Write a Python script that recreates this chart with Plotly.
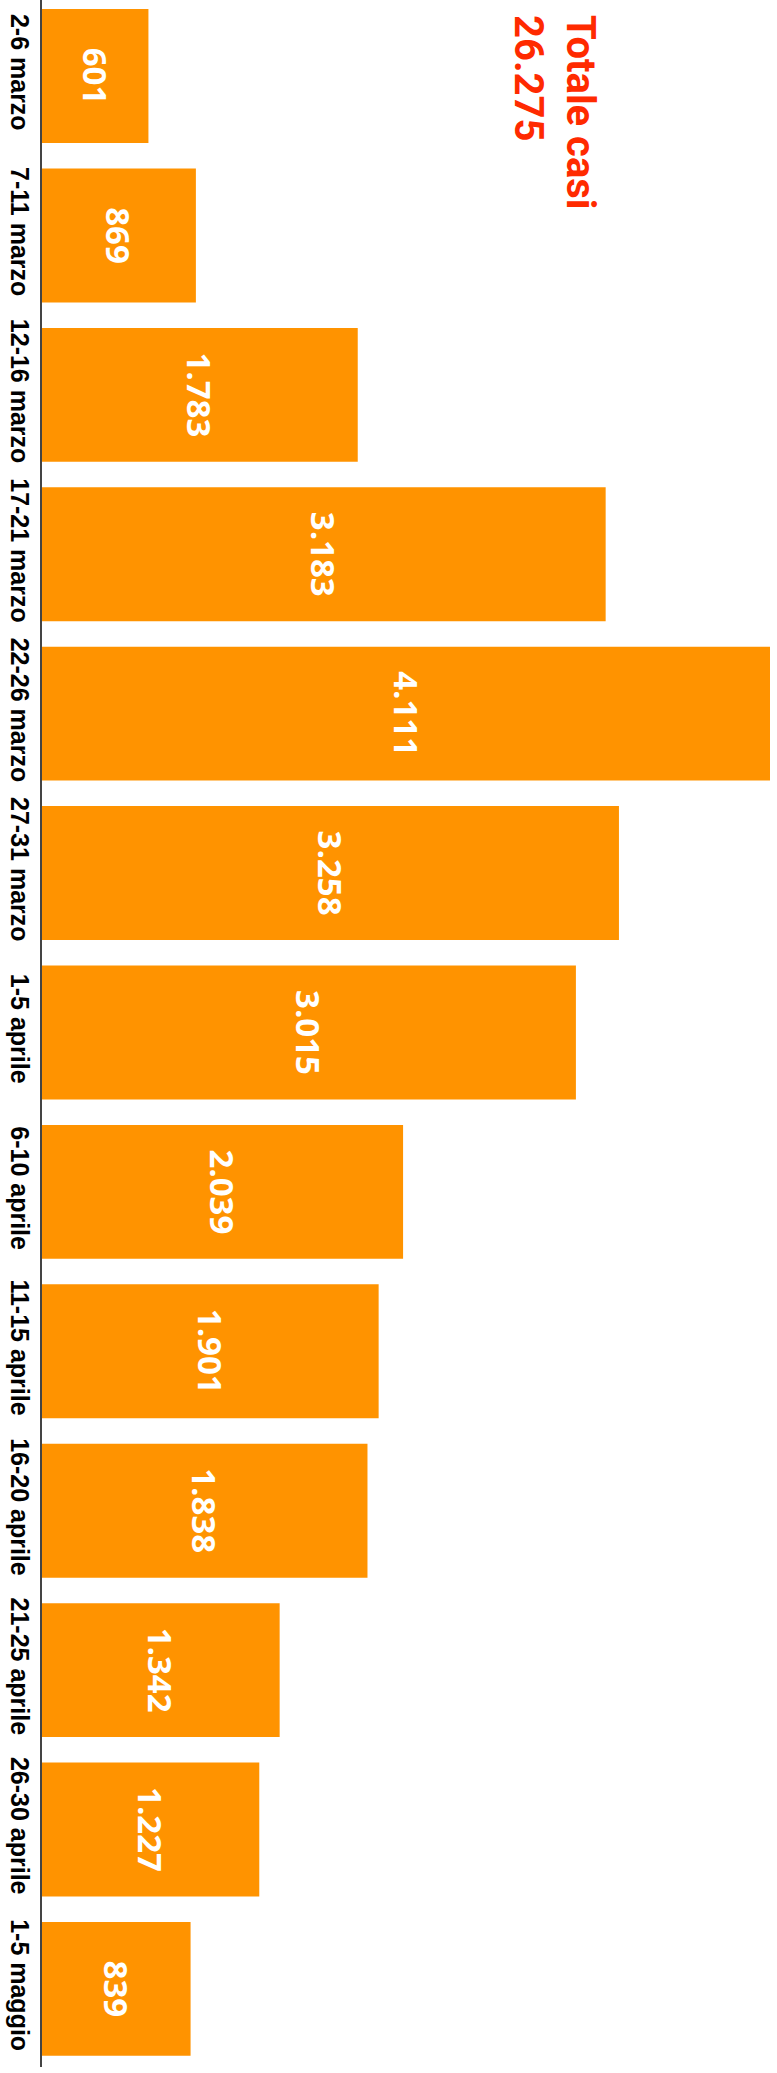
import plotly.graph_objects as go

categories = ["2-6 marzo", "7-11 marzo", "12-16 marzo", "17-21 marzo", "22-26 marzo",
              "27-31 marzo", "1-5 aprile", "6-10 aprile", "11-15 aprile", "16-20 aprile",
              "21-25 aprile", "26-30 aprile", "1-5 maggio"]
values = [601, 869, 1783, 3183, 4111, 3258, 3015, 2039, 1901, 1838, 1342, 1227, 839]
value_labels = ["601", "869", "1.783", "3.183", "4.111", "3.258", "3.015", "2.039",
                "1.901", "1.838", "1.342", "1.227", "839"]
total_title = "Totale casi"
total_value = "26.275"

W, H = 777, 2073
ML, MR, MT, MB = 42, 0, 0, 6

fig = go.Figure(go.Bar(
    x=values,
    y=list(range(len(categories))),
    orientation="h",
    marker=dict(color="#FF9300", line=dict(width=0)),
    text=value_labels,
    textposition="inside",
    insidetextanchor="middle",
    textangle=90,
    textfont=dict(family="Open Sans", size=33, color="white", weight="bold"),
    cliponaxis=False,
    hoverinfo="skip",
))

fig.update_layout(
    width=W, height=H,
    margin=dict(l=ML, r=MR, t=MT, b=MB, autoexpand=False),
    paper_bgcolor="white", plot_bgcolor="white",
    bargap=0.16,
    showlegend=False,
    uniformtext=dict(minsize=8, mode="show"),
    xaxis=dict(range=[0, 4111 * 735 / 728], visible=False, showgrid=False,
               zeroline=False, automargin=False),
    yaxis=dict(
        range=[12.49, -0.477],
        tickmode="array",
        tickvals=list(range(len(categories))),
        ticktext=categories,
        tickangle=90,
        ticklabelstandoff=-1,
        tickfont=dict(family="Liberation Sans, Arial", size=25,
                      color="black", weight="bold"),
        showline=True, linecolor="#444", linewidth=1.5,
        showgrid=False, zeroline=False, ticks="", automargin=False,
    ),
    annotations=[dict(
        text=total_title + "<br>" + total_value,
        xref="paper", yref="paper",
        x=(554 - ML) / (W - ML - MR), y=1 - (112 - MT) / (H - MT - MB),
        xanchor="center", yanchor="middle",
        textangle=90, align="left", showarrow=False,
        font=dict(family="Roboto", size=40, color="#FF2A00", weight="bold"),
    )],
)

fig.write_html("out.html", config={"displayModeBar": False},
               post_script="document.body.style.margin='0';")
